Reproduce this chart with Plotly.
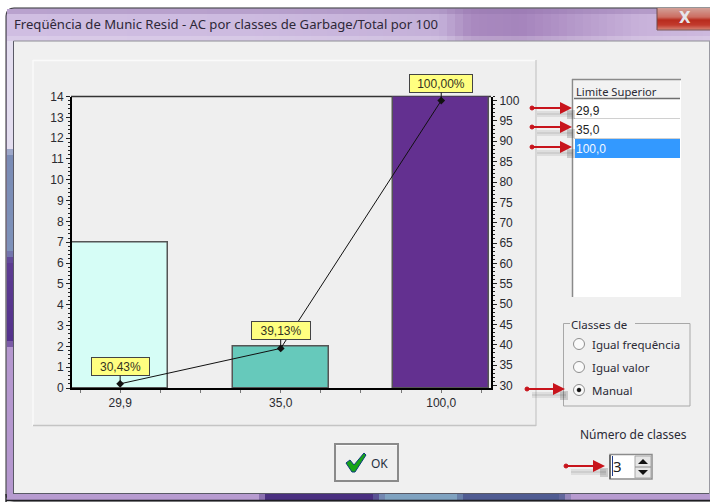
import plotly.graph_objects as go

# Chart values
categories = ["29,9", "35,0", "100,0"]
frequency = [7, 2, 14]
cumulative_pct = [30.43, 39.13, 100.0]
bar_colors = ["#D6FDF6", "#66C9BB", "#633090"]
left_ticks = list(range(0, 15))
right_ticks = list(range(30, 101, 5))

# Dialog contents
window_title = "Freqüência de Munic Resid - AC por classes de Garbage/Total por 100"
list_header = "Limite Superior"
group_title = "Classes de"
radio_labels = ["Igual frequência", "Igual valor", "Manual"]
spin_label = "Número de classes"
spin_value = "3"

W, H = 710, 502
FACE = "#F0F0F0"
TEXT = "#2A2A35"
UI_FONT = "Noto Sans"
CHART_FONT = "Liberation Sans"


def fx(x):
    return x / W


def fy(y):
    return 1 - y / H


shapes = []
notes = []


def rect(x0, y0, x1, y1, fill=None, line=None, width=1):
    shapes.append(dict(
        type="rect", xref="paper", yref="paper", layer="below",
        x0=fx(x0), x1=fx(x1), y0=fy(y0), y1=fy(y1),
        fillcolor=fill or "rgba(0,0,0,0)",
        line=dict(color=line or "rgba(0,0,0,0)", width=width if line else 0),
    ))


def seg(x0, y0, x1, y1, color, width=1):
    shapes.append(dict(
        type="line", xref="paper", yref="paper", layer="below",
        x0=fx(x0), x1=fx(x1), y0=fy(y0), y1=fy(y1),
        line=dict(color=color, width=width),
    ))


def disc(cx, cy, r, fill, line=None, width=1):
    shapes.append(dict(
        type="circle", xref="paper", yref="paper", layer="below",
        x0=fx(cx - r), x1=fx(cx + r), y0=fy(cy + r), y1=fy(cy - r),
        fillcolor=fill,
        line=dict(color=line or fill, width=width),
    ))


def poly(points, fill, line=None, width=0):
    d = "M " + " L ".join(f"{fx(x):.5f},{fy(y):.5f}" for x, y in points) + " Z"
    shapes.append(dict(
        type="path", xref="paper", yref="paper", layer="below", path=d,
        fillcolor=fill,
        line=dict(color=line or "rgba(0,0,0,0)", width=width),
    ))


def label(x, y, text, size=12, color=TEXT, family=UI_FONT, anchor="left"):
    notes.append(dict(
        xref="paper", yref="paper", x=fx(x), y=fy(y), text=text,
        showarrow=False, xanchor=anchor, yanchor="middle", borderpad=0,
        font=dict(family=family, size=size, color=color),
    ))


def mix(a, b, t):
    pa = [int(a[i:i + 2], 16) for i in (1, 3, 5)]
    pb = [int(b[i:i + 2], 16) for i in (1, 3, 5)]
    return "#" + "".join(f"{round(p + (q - p) * t):02X}" for p, q in zip(pa, pb))


def ramp(stops, x):
    for (x0, c0), (x1, c1) in zip(stops, stops[1:]):
        if x0 <= x <= x1:
            return mix(c0, c1, (x - x0) / (x1 - x0))
    return stops[-1][1]


def red_arrow(x0, x1, y):
    # soft shadow under the arrow
    for off, alpha in ((3, 0.10), (5, 0.20), (7, 0.10)):
        rect(x0 + 6, y + off, x1 + 1, y + off + 2, fill=f"rgba(70,70,70,{alpha})")
    rect(x1 - 5, y + 2, x1 + 3, y + 11, fill="rgba(70,70,70,0.22)")
    seg(x0, y, x1 - 10, y, "#C8141C", 2)
    disc(x0 + 1, y, 2, "#C8141C")
    poly([(x1 - 12, y - 6), (x1, y), (x1 - 12, y + 6)], "#C8141C")


# --- window frame ---
shapes.append(dict(
    type="path", xref="paper", yref="paper", layer="below",
    path=(f"M {fx(6)},{fy(502)} L {fx(6)},{fy(16)} Q {fx(6)},{fy(8)} {fx(14)},{fy(8)} "
          f"L {fx(710)},{fy(8)} L {fx(710)},{fy(501)} L {fx(14)},{fy(501)} "
          f"Q {fx(6)},{fy(501)} {fx(6)},{fy(494)} Z"),
    fillcolor="#C4B0DA", line=dict(color="#2A2A2E", width=1),
))

# title bar shading
title_stops = [(7, "#D0BEE2"), (250, "#CDBBE0"), (440, "#C4B0D8"), (470, "#A98ABF"), (520, "#A584BC"), (640, "#C8B2DA"), (710, "#CDB9DE")]
for x in range(7, 710, 8):
    base = ramp(title_stops, x + 4)
    rect(x, 9, x + 8, 41, fill=base)
    rect(x, 9, x + 8, 14, fill=mix(base, "#8E6FA8", 0.35))
    rect(x, 36, x + 8, 41, fill=mix(base, "#FFFFFF", 0.20))

# left edge band
left_stops = [(41, "#E4DEF0"), (150, "#E4DEF0"), (153, "#7A8BB5"), (250, "#7E92BA"), (262, "#5D3C92"), (340, "#54328C"), (350, "#B598CF"), (494, "#B598CF")]
for y in range(41, 494, 6):
    rect(7, y, 13, y + 6, fill=ramp(left_stops, y + 3))

# bottom edge band
bottom_stops = [(7, "#B79BD0"), (258, "#B79BD0"), (268, "#4A2F80"), (372, "#4A2F80"), (385, "#7FA2C0"), (455, "#7FA2C0"), (465, "#505C92"), (560, "#505C92"), (572, "#B79BD0"), (710, "#B79BD0")]
for x in range(7, 710, 6):
    rect(x, 494, x + 6, 500, fill=ramp(bottom_stops, x + 3))
seg(6, 500.5, 710, 500.5, "#1E1E22", 1.5)

# client area
rect(14, 41, 710, 494, fill=FACE)
seg(13.5, 41, 13.5, 494, "#5A5A66", 1)
seg(13.5, 41, 710, 41, "#8E8E96", 1)
seg(13.5, 493.5, 710, 493.5, "#5A5A66", 1)
seg(709.5, 41, 709.5, 494, "#9A9AA2", 1)

# close button
close_stops = [(8, "#D2A098"), (17, "#CC6E62"), (20, "#B82C1E"), (25, "#C23A2C"), (30, "#D88878")]
for y in range(8, 30):
    rect(657, y, 710, y + 1, fill=ramp(close_stops, y + 0.5))
seg(657, 8, 657, 30, "#6E4A4A", 1)
seg(657, 30, 710, 30, "#7A5656", 1)
label(685, 18, "<b>X</b>", size=15, color="#E6E6EC", family="DejaVu Sans", anchor="center")

label(13, 24, window_title, size=13.1, color="#2E2838")

# chart panel
rect(33, 60, 536, 426, fill="#EFEFEF")
seg(33, 60.5, 536, 60.5, "#FAFAFA", 1.5)
seg(33, 60, 33, 426, "#FAFAFA", 1.5)
seg(536, 60, 536, 426, "#BDBDBD", 1)
seg(33, 425.5, 536, 425.5, "#C4C4C4", 1.5)

# class-limit list
rect(572, 79, 681, 297, fill="#FFFFFF")
rect(574, 80, 680, 98, fill="#F2F2F2")
seg(572.5, 79, 572.5, 297, "#8A8A8A", 1.5)
seg(572, 79.5, 681, 79.5, "#8A8A8A", 1.5)
seg(574, 98.5, 680, 98.5, "#6E6E6E", 1.5)
seg(574, 118.5, 680, 118.5, "#D0D0D0", 1)
seg(574, 138.5, 680, 138.5, "#D0D0D0", 1)
rect(575, 139, 680, 158, fill="#3399FF")
label(575, 91, list_header, size=11.2)
label(575, 110.5, categories[0], size=12, family=CHART_FONT, color="#222222")
label(575, 130, categories[1], size=12, family=CHART_FONT, color="#222222")
label(575, 149.5, categories[2], size=12, family=CHART_FONT, color="#F4F8FF")

# class-mode group
rect(563.5, 323.5, 690, 406, line="#A8A8A8", width=1)
rect(570, 320, 635, 328, fill=FACE)
label(570, 324, group_title, size=11.5)
radio_rows = [344, 367, 390]
for row, text in zip(radio_rows, radio_labels):
    disc(579, row, 5.5, "#FAFAFA", line="#8E8E8E", width=1)
    label(591, row, text, size=11.5)
disc(579, radio_rows[2], 1.8, "#111111")

# class-count spinner
label(579, 434, spin_label, size=12)
rect(609, 454, 653, 480, fill="#F8F8F8")
rect(610, 454.5, 652, 479, fill="#FFFFFF", line="#8C8C8C", width=1.5)
seg(610, 455, 610, 479, "#6E6E6E", 2)
rect(635, 456, 651, 478, fill="#E6E6E6", line="#A8A8A8", width=1)
seg(635, 467, 651, 467, "#8C8C8C", 1)
poly([(638, 464), (648, 464), (643, 459)], "#111111")
poly([(638, 470), (648, 470), (643, 475)], "#111111")
seg(612.5, 456, 612.5, 476, "#1F3C88", 1)
label(612, 466, spin_value, size=15, color="#222222")

# OK button
rect(335, 444, 398, 481, fill="#EFEFEF", line="#8A8A8A", width=2)
seg(336, 445.5, 397, 445.5, "#FBFBFB", 1)
poly([(346, 463), (350, 460), (354, 465), (364, 453), (366, 455), (355, 472), (352, 472)], "#18A418", line="#0C3C7C", width=1)
label(370, 463, "OK", size=12, color="#26303E", family=UI_FONT)

# annotation arrows
for x0, x1, y in ((531, 572, 108), (531, 572, 127), (531, 572, 147), (526, 565, 389), (565, 605, 466)):
    red_arrow(x0, x1, y)

# top edge of the plot frame
seg(71, 96.5, 491, 96.5, "#333333", 1.5)

# percentage callouts on the cumulative line
for i, (pct, lift, box_w) in enumerate(zip(cumulative_pct, (-17, -18, -17), (55, 56, 60))):
    notes.append(dict(
        xref="x", yref="y2", x=i, y=pct,
        text=f"{pct:.2f}".replace(".", ",") + "%",
        showarrow=True, arrowhead=0, arrowwidth=1, arrowcolor="#111111",
        ax=0, ay=lift, standoff=0,
        width=box_w, height=15, borderpad=1, borderwidth=1,
        bordercolor="#444444", bgcolor="#FFFF80",
        font=dict(family=CHART_FONT, size=12, color="#333322"),
    ))

fig = go.Figure()
positions = list(range(len(categories)))
fig.add_trace(go.Bar(
    x=positions, y=frequency, width=0.6,
    marker=dict(color=bar_colors, line=dict(color="#555555", width=1.5)),
    yaxis="y", showlegend=False,
))
fig.add_trace(go.Scatter(
    x=positions, y=cumulative_pct, mode="lines+markers", yaxis="y2",
    line=dict(color="#111111", width=1),
    marker=dict(symbol="diamond", size=6, color="#111111"),
    showlegend=False,
))

tick_font = dict(family=CHART_FONT, size=12, color="#2A2A30")
fig.update_layout(
    template="none",
    width=W, height=H, margin=dict(l=0, r=0, t=0, b=0, autoexpand=False),
    paper_bgcolor="#FFFFFF", plot_bgcolor="rgba(0,0,0,0)",
    shapes=shapes, annotations=notes, showlegend=False, bargap=0,
    xaxis=dict(
        domain=[fx(72), fx(491)], range=[-0.3, 2.31], showgrid=False, zeroline=False,
        automargin=False,
        tickmode="array", tickvals=positions, ticktext=categories,
        ticks="outside", ticklen=3, tickcolor="#777777", tickfont=tick_font,
        showline=True, linecolor="#000000", linewidth=2,
        minor=dict(tickmode="linear", tick0=0, dtick=0.25, ticks="outside", ticklen=3, tickcolor="#777777"),
    ),
    yaxis=dict(
        domain=[fy(388), fy(96.5)], range=[0, 14], showgrid=False, zeroline=False,
        automargin=False,
        tickmode="array", tickvals=left_ticks, ticks="outside", ticklen=4,
        tickcolor="#222222", tickfont=tick_font,
        showline=True, linecolor="#000000", linewidth=2,
        minor=dict(tickmode="linear", tick0=0, dtick=0.2, ticks="outside", ticklen=2, tickcolor="#222222"),
    ),
    yaxis2=dict(
        domain=[fy(388), fy(96.5)], range=[29.4, 101], overlaying="y", side="right",
        anchor="x", showgrid=False, zeroline=False, automargin=False,
        tickmode="array", tickvals=right_ticks, ticks="outside", ticklen=4,
        tickcolor="#222222", tickfont=tick_font,
        showline=True, linecolor="#000000", linewidth=2,
        minor=dict(tickmode="linear", tick0=0, dtick=1, ticks="outside", ticklen=2, tickcolor="#222222"),
    ),
)

fig.write_html("out.html", config=dict(displayModeBar=False))
